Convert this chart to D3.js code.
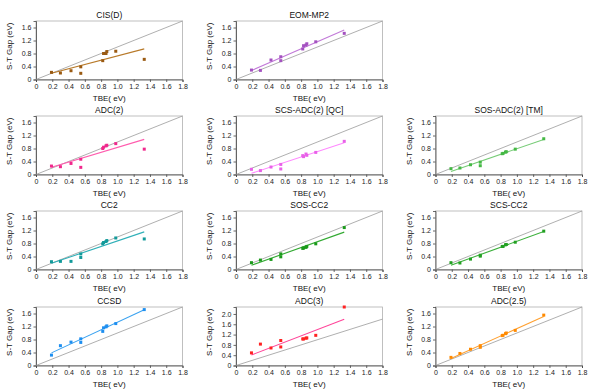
<!DOCTYPE html>
<html>
<head>
<meta charset="utf-8">
<script src="https://cdn.jsdelivr.net/npm/d3@7"></script>
<style>
  body { margin: 0; background: #fff; }
  svg { display: block; font-family: "Liberation Sans", Arial, sans-serif; }
</style>
</head>
<body>
<div id="chart"></div>
<script>
const width = 597;
const height = 392;

// theoretical best estimates (x axis), shared by every panel
const tbe = [0.19, 0.30, 0.43, 0.55, 0.55, 0.82, 0.83, 0.86, 0.87, 0.98, 1.33];

// singlet-triplet gaps
const cisd     = [0.22, 0.20, 0.27, 0.39, 0.19, 0.58, 0.80, 0.80, 0.86, 0.87, 0.62];
const eomMp2   = [0.29, 0.28, 0.60, 0.70, 0.58, 0.94, 1.04, 1.06, 1.10, 1.16, 1.42];
const adc2     = [0.26, 0.24, 0.34, 0.47, 0.22, 0.80, 0.84, 0.88, 0.90, 0.95, 0.78];
const scsAdc2  = [0.16, 0.12, 0.23, 0.31, 0.17, 0.58, 0.55, 0.63, 0.59, 0.68, 1.02];
const sosAdc2  = [0.18, 0.20, 0.30, 0.38, 0.27, 0.64, 0.65, 0.69, 0.70, 0.78, 1.10];
const cc2      = [0.24, 0.25, 0.25, 0.48, 0.37, 0.79, 0.83, 0.86, 0.89, 0.97, 0.94];
const sosCc2   = [0.21, 0.29, 0.31, 0.48, 0.39, 0.65, 0.66, 0.68, 0.71, 0.79, 1.29];
const scsCc2   = [0.21, 0.20, 0.32, 0.44, 0.41, 0.71, 0.71, 0.76, 0.77, 0.84, 1.18];
const ccsd     = [0.32, 0.61, 0.72, 0.82, 0.71, 1.05, 1.16, 1.19, 1.22, 1.29, 1.72];
const adc3     = [0.49, 0.83, 0.68, 0.97, 0.72, 1.03, 1.03, 1.06, 1.07, 1.17, 2.27];
const adc25    = [0.25, 0.37, 0.50, 0.61, 0.56, 0.92, 0.93, 0.98, 1.00, 1.08, 1.55];

const methods = [
  { name: "CIS(D)", values: cisd, row: 0, col: 0 },
  { name: "EOM-MP2", values: eomMp2, row: 0, col: 1 },
  { name: "ADC(2)", values: adc2, row: 1, col: 0 },
  { name: "SCS-ADC(2) [QC]", values: scsAdc2, row: 1, col: 1 },
  { name: "SOS-ADC(2) [TM]", values: sosAdc2, row: 1, col: 2 },
  { name: "CC2", values: cc2, row: 2, col: 0 },
  { name: "SOS-CC2", values: sosCc2, row: 2, col: 1 },
  { name: "SCS-CC2", values: scsCc2, row: 2, col: 2 },
  { name: "CCSD", values: ccsd, row: 3, col: 0 },
  { name: "ADC(3)", values: adc3, row: 3, col: 1 },
  { name: "ADC(2.5)", values: adc25, row: 3, col: 2 }
];

const xTicks = [0, 0.2, 0.4, 0.6, 0.8, 1.0, 1.2, 1.4, 1.6, 1.8];

// styling per panel: point colour, fit line colour
const colors = {
  "CIS(D)": ["#9a5a12", "#b87a2a"],
  "EOM-MP2": ["#a452c0", "#c27ad8"],
  "ADC(2)": ["#f0288c", "#ff5cae"],
  "SCS-ADC(2) [QC]": ["#e860e8", "#ff88ff"],
  "SOS-ADC(2) [TM]": ["#44b844", "#77cc77"],
  "CC2": ["#129a9a", "#30b0b8"],
  "SOS-CC2": ["#1a9a1a", "#33aa33"],
  "SCS-CC2": ["#22a022", "#3cb03c"],
  "CCSD": ["#1e8ff0", "#3aa2f0"],
  "ADC(3)": ["#ff2222", "#ff4499"],
  "ADC(2.5)": ["#ff8a00", "#ffa030"]
};

const colLeft = [36, 236, 435.5];
const rowTop = [21, 116, 211, 307];
const pw = 146.5;
const ph = 58.5;

const svg = d3.select("#chart")
  .append("svg")
  .attr("width", width)
  .attr("height", height);

methods.forEach(m => {
  const g = svg.append("g")
    .attr("transform", `translate(${colLeft[m.col]},${rowTop[m.row]})`);

  const yMax = Math.max(1.8, d3.max(m.values));
  const x = d3.scaleLinear().domain([0, 1.8]).range([0, pw]);
  const y = d3.scaleLinear().domain([0, yMax]).range([ph, 0]);
  const [pc, lc] = colors[m.name];

  // frame
  g.append("rect")
    .attr("width", pw)
    .attr("height", ph)
    .attr("fill", "none")
    .attr("stroke", "#b0b0b0")
    .attr("stroke-width", 0.8);

  const xAxis = g.append("g")
    .attr("transform", `translate(0,${ph})`)
    .call(d3.axisBottom(x).tickValues(xTicks).tickSize(2.5).tickPadding(2)
      .tickFormat(d => d === 0 ? "0" : d3.format(".1f")(d)));

  const yTicks = d3.range(0, yMax + 1e-9, 0.4);
  const yAxis = g.append("g")
    .call(d3.axisLeft(y).tickValues(yTicks).tickSize(2.5).tickPadding(2)
      .tickFormat(d => d === 0 ? "0" : d3.format(".1f")(d)));

  [xAxis, yAxis].forEach(a => {
    a.select(".domain").attr("stroke", "#444").attr("stroke-width", 0.8);
    a.selectAll(".tick line").attr("stroke", "#444").attr("stroke-width", 0.8);
    a.selectAll(".tick text").attr("font-size", 7).attr("fill", "#222")
      .attr("font-family", "Liberation Sans, Arial, sans-serif");
  });

  // y = x reference
  g.append("line")
    .attr("x1", x(0)).attr("y1", y(0))
    .attr("x2", x(1.8)).attr("y2", y(1.8))
    .attr("stroke", "#9a9a9a")
    .attr("stroke-width", 0.8);

  // least squares fit
  const mx = d3.mean(tbe), my = d3.mean(m.values);
  const sxy = d3.sum(tbe, (d, i) => (d - mx) * (m.values[i] - my));
  const sxx = d3.sum(tbe, d => (d - mx) * (d - mx));
  const slope = sxy / sxx;
  const x0 = d3.min(tbe), x1 = d3.max(tbe);
  g.append("line")
    .attr("x1", x(x0)).attr("y1", y(my + slope * (x0 - mx)))
    .attr("x2", x(x1)).attr("y2", y(my + slope * (x1 - mx)))
    .attr("stroke", lc)
    .attr("stroke-width", 1.1);

  g.append("g")
    .selectAll("rect")
    .data(m.values)
    .join("rect")
    .attr("x", (d, i) => x(tbe[i]) - 1.5)
    .attr("y", d => y(d) - 1.5)
    .attr("width", 3)
    .attr("height", 3)
    .attr("fill", pc);

  g.append("text")
    .attr("x", pw / 2)
    .attr("y", -3)
    .attr("text-anchor", "middle")
    .attr("font-size", 8.5)
    .attr("fill", "#111")
    .text(m.name);

  g.append("text")
    .attr("x", pw / 2)
    .attr("y", ph + 21)
    .attr("text-anchor", "middle")
    .attr("font-size", 8)
    .attr("fill", "#111")
    .text("TBE( eV)");

  g.append("text")
    .attr("transform", `translate(-24,${ph / 2 - 4}) rotate(-90)`)
    .attr("text-anchor", "middle")
    .attr("font-size", 8)
    .attr("fill", "#111")
    .text("S-T Gap (eV)");
});
</script>
</body>
</html>
